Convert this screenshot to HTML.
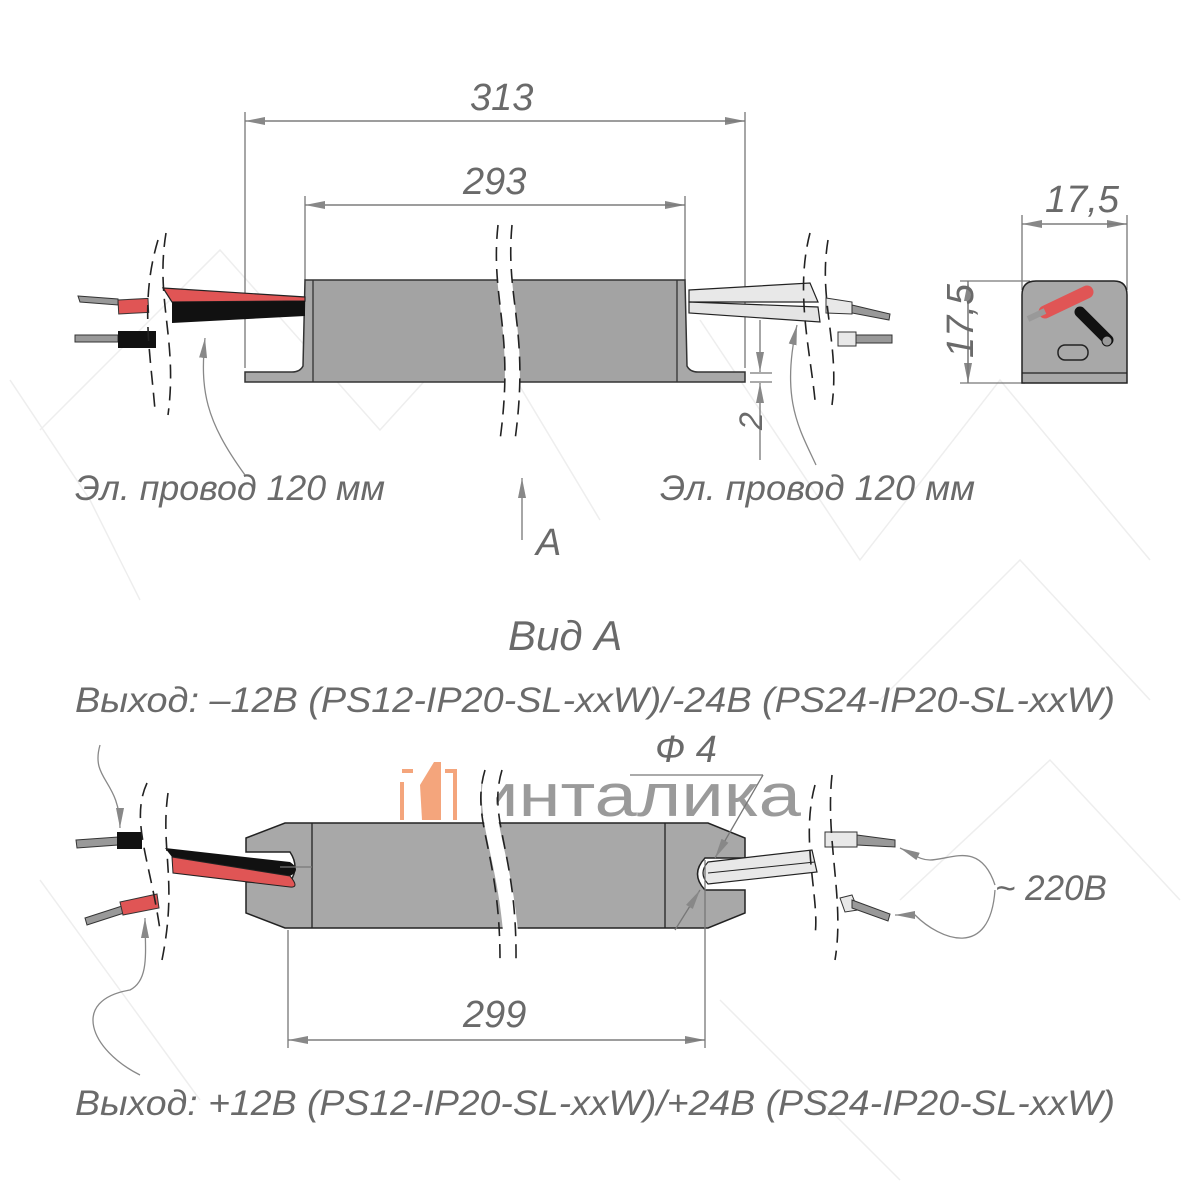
<!DOCTYPE html>
<html><head><meta charset="utf-8"><style>
html,body{margin:0;padding:0;background:#fff;}
svg{display:block}
text{font-family:"Liberation Sans Narrow","Liberation Sans",sans-serif;font-style:italic;fill:#6a6a6a;}
</style></head><body>
<svg width="1200" height="1200" viewBox="0 0 1200 1200" xmlns="http://www.w3.org/2000/svg">
<defs>
<marker id="ar" viewBox="0 0 20 8" refX="20" refY="4" markerWidth="20" markerHeight="8" orient="auto" markerUnits="userSpaceOnUse"><path d="M0,0 L20,4 L0,8 Z" fill="#888"/></marker>
</defs>
<g stroke="#eee" stroke-width="1.5" fill="none">
<path d="M10,380 L90,500 L140,600 M40,430 L220,250 L380,430 L480,320 L600,520 M700,320 L860,560 L1000,380 L1150,560 M880,700 L1020,560 L1150,700 M900,900 L1050,760 L1180,900 M720,1000 L900,1180 M40,880 L200,1100"/>
</g>

<!-- ===== TOP VIEW ===== -->
<g stroke="#777" stroke-width="1.3" fill="none">
<line x1="245" y1="112" x2="245" y2="368"/>
<line x1="745" y1="112" x2="745" y2="368"/>
<line x1="305" y1="196" x2="305" y2="280"/>
<line x1="685" y1="196" x2="685" y2="280"/>
<line x1="245" y1="121" x2="745" y2="121" marker-end="url(#ar)"/>
<line x1="745" y1="121" x2="245" y2="121" marker-end="url(#ar)"/>
<line x1="305" y1="205" x2="685" y2="205" marker-end="url(#ar)"/>
<line x1="685" y1="205" x2="305" y2="205" marker-end="url(#ar)"/>
<line x1="760" y1="320" x2="760" y2="372" marker-end="url(#ar)"/>
<line x1="760" y1="460" x2="760" y2="383" marker-end="url(#ar)"/>
<line x1="750" y1="373" x2="772" y2="373"/>
<line x1="750" y1="382" x2="772" y2="382"/>
<line x1="522" y1="540" x2="522" y2="478" marker-end="url(#ar)"/>
</g>
<text x="470" y="110" font-size="38">313</text>
<text x="463" y="194" font-size="38">293</text>
<text x="747" y="445" font-size="32" transform="rotate(-90 747 430)">2</text>
<text x="536" y="555" font-size="38">A</text>
<text x="75" y="500" font-size="35" textLength="310" lengthAdjust="spacingAndGlyphs">Эл. провод 120 мм</text>
<text x="660" y="500" font-size="35" textLength="315" lengthAdjust="spacingAndGlyphs">Эл. провод 120 мм</text>

<path d="M245,372 L292,372 Q300,372 303,366 L305,280 L685,280 L687,366 Q690,372 698,372 L745,372 L745,382 L245,382 Z" fill="#a8a8a8" stroke="#333" stroke-width="1.5"/>
<rect x="313" y="281" width="364" height="100" fill="#a3a3a3"/>
<line x1="313" y1="280" x2="313" y2="382" stroke="#333" stroke-width="1.3"/>
<line x1="677" y1="280" x2="677" y2="382" stroke="#333" stroke-width="1.3"/>
<path d="M498,225 C490,300 515,330 500,440 L515,440 C530,330 505,300 512,225 Z" fill="#fff"/>
<path d="M498,225 C490,300 515,330 500,440" stroke="#222" stroke-width="1.6" fill="none" stroke-dasharray="14,8"/>
<path d="M512,225 C505,300 530,330 515,440" stroke="#222" stroke-width="1.6" fill="none" stroke-dasharray="14,8"/>

<path d="M163,288 L305,297 L305,301 L172,302 Z" fill="#e05555" stroke="#222" stroke-width="1.2"/>
<path d="M172,302 L305,301 L305,316 L172,323 Z" fill="#111"/>
<path d="M78,296 L118,299 L118,305 L80,302 Z" fill="#999" stroke="#333"/>
<rect x="118" y="300" width="30" height="14" fill="#e05555" stroke="#333" transform="rotate(-3 118 300)"/>
<path d="M75,335 L118,335 L118,342 L75,342 Z" fill="#999" stroke="#333"/>
<rect x="118" y="331" width="38" height="17" fill="#111"/>
<path d="M158,240 C140,300 150,350 155,410" stroke="#222" stroke-width="1.6" fill="none" stroke-dasharray="14,8"/>
<path d="M166,233 C155,300 178,340 168,415" stroke="#222" stroke-width="1.6" fill="none" stroke-dasharray="14,8"/>
<path d="M245,475 C205,420 200,390 205,338" stroke="#888" stroke-width="1.3" fill="none" marker-end="url(#ar)"/>

<path d="M689,290 L810,283 L818,302 L689,302 Z" fill="#e8e8e8" stroke="#222" stroke-width="1.2"/>
<path d="M689,302 L818,307 L820,322 L689,313 Z" fill="#e4e4e4" stroke="#222" stroke-width="1.2"/>
<path d="M826,298 L852,302 L852,314 L826,313 Z" fill="#e8e8e8" stroke="#333"/>
<path d="M852,305 L890,314 L889,320 L852,313 Z" fill="#999" stroke="#333"/>
<rect x="838" y="332" width="18" height="14" fill="#e8e8e8" stroke="#333"/>
<rect x="856" y="335" width="36" height="8" fill="#999" stroke="#333"/>
<path d="M810,233 C795,290 810,350 815,400" stroke="#222" stroke-width="1.6" fill="none" stroke-dasharray="14,8"/>
<path d="M828,240 C818,300 840,345 832,405" stroke="#222" stroke-width="1.6" fill="none" stroke-dasharray="14,8"/>
<path d="M816,465 C800,430 780,400 797,325" stroke="#888" stroke-width="1.3" fill="none" marker-end="url(#ar)"/>

<!-- side view -->
<g stroke="#777" stroke-width="1.3" fill="none">
<line x1="1022" y1="215" x2="1022" y2="290"/>
<line x1="1127" y1="215" x2="1127" y2="290"/>
<line x1="1022" y1="224" x2="1127" y2="224" marker-end="url(#ar)"/>
<line x1="1127" y1="224" x2="1022" y2="224" marker-end="url(#ar)"/>
<line x1="960" y1="281" x2="1030" y2="281"/>
<line x1="960" y1="383" x2="1025" y2="383"/>
<line x1="968" y1="281" x2="968" y2="383" marker-end="url(#ar)"/>
<line x1="968" y1="383" x2="968" y2="281" marker-end="url(#ar)"/>
</g>
<text x="1045" y="212" font-size="38">17,5</text>
<text x="930" y="345" font-size="38" transform="rotate(-90 958 330)">17,5</text>
<path d="M1022,383 L1022,295 Q1022,281 1036,281 L1114,281 Q1127,281 1127,295 L1127,383 Z" fill="#a8a8a8" stroke="#222" stroke-width="1.5"/>
<line x1="1022" y1="373" x2="1127" y2="373" stroke="#222" stroke-width="1.3"/>
<path d="M1080,312 L1108,340" stroke="#111" stroke-width="11" stroke-linecap="round"/>
<circle cx="1107" cy="341" r="5" fill="#999" stroke="#111"/>
<path d="M1045,312 L1087,292" stroke="#e05555" stroke-width="13" stroke-linecap="round"/>
<path d="M1028,319 L1045,311" stroke="#999" stroke-width="6"/>
<rect x="1058" y="345" width="30" height="15" rx="7" fill="none" stroke="#222" stroke-width="1.5"/>

<!-- ===== VIEW A ===== -->
<text x="508" y="650" font-size="42">Вид А</text>
<text x="75" y="712" font-size="35" textLength="1040" lengthAdjust="spacingAndGlyphs">Выход: –12В (PS12-IP20-SL-xxW)/-24В (PS24-IP20-SL-xxW)</text>
<text x="75" y="1115" font-size="35" textLength="1040" lengthAdjust="spacingAndGlyphs">Выход: +12В (PS12-IP20-SL-xxW)/+24В (PS24-IP20-SL-xxW)</text>

<g fill="none" stroke="#f4a57c" stroke-width="4">
<path d="M402,782 L402,820 M402,771 L413,771 M445,771 L455,771 L455,820"/>
</g>
<path d="M420,785 L434,762 L441,762 L441,820 L422,820 Z" fill="#f4a57c"/>
<text x="476" y="816" font-size="60" textLength="325" lengthAdjust="spacingAndGlyphs" style="font-style:normal;fill:#9a9a9a">инталика</text>

<path d="M246,838 L285,823 L708,823 L745,838 L745,858 L705,858 Q690,874 705,890 L745,890 L745,913 L708,928 L285,928 L246,913 L246,882 L290,882 Q300,867 290,852 L246,852 Z" fill="#a8a8a8" stroke="#222" stroke-width="1.5"/>
<line x1="312" y1="823" x2="312" y2="928" stroke="#222" stroke-width="1.3"/>
<line x1="665" y1="823" x2="665" y2="928" stroke="#222" stroke-width="1.3"/>
<path d="M487,760 C470,820 500,850 505,960 L520,960 C515,850 485,820 500,760 Z" fill="#fff"/>
<path d="M485,770 C470,820 500,850 500,960" stroke="#222" stroke-width="1.6" fill="none" stroke-dasharray="14,8"/>
<path d="M502,770 C487,820 517,850 516,960" stroke="#222" stroke-width="1.6" fill="none" stroke-dasharray="14,8"/>

<path d="M165,848 L290,862 Q302,870 290,876 L172,857 Z" fill="#111"/>
<path d="M172,857 L290,876 Q300,888 290,887 L173,873 Z" fill="#e05555" stroke="#222"/>
<path d="M76,840 L118,837 L118,845 L77,848 Z" fill="#999" stroke="#333"/>
<rect x="117" y="832" width="25" height="17" fill="#111"/>
<path d="M85,918 L122,906 L124,913 L87,925 Z" fill="#999" stroke="#333"/>
<path d="M120,902 L157,894 L159,908 L123,915 Z" fill="#e05555" stroke="#333"/>
<path d="M147,783 C130,820 150,860 160,930" stroke="#222" stroke-width="1.6" fill="none" stroke-dasharray="14,8"/>
<path d="M168,793 C160,850 178,880 162,960" stroke="#222" stroke-width="1.6" fill="none" stroke-dasharray="14,8"/>
<path d="M100,745 C90,780 120,780 120,828" stroke="#888" stroke-width="1.3" fill="none" marker-end="url(#ar)"/>
<path d="M140,1075 C90,1050 70,1000 130,990 C150,980 145,950 145,918" stroke="#888" stroke-width="1.3" fill="none" marker-end="url(#ar)"/>

<path d="M708,862 L812,850 L817,872 L708,884 Q698,873 708,862 Z" fill="#e8e8e8" stroke="#222" stroke-width="1.2"/>
<line x1="708" y1="873" x2="815" y2="862" stroke="#222"/>
<rect x="825" y="832" width="32" height="15" fill="#e8e8e8" stroke="#333"/>
<path d="M857,835 L895,840 L895,847 L857,845 Z" fill="#999" stroke="#333"/>
<path d="M840,898 L852,895 L858,910 L845,912 Z" fill="#e8e8e8" stroke="#333"/>
<path d="M852,900 L890,914 L888,921 L852,908 Z" fill="#999" stroke="#333"/>
<path d="M815,785 C800,840 820,900 815,935" stroke="#222" stroke-width="1.6" fill="none" stroke-dasharray="14,8"/>
<path d="M832,775 C825,840 845,900 835,960" stroke="#222" stroke-width="1.6" fill="none" stroke-dasharray="14,8"/>
<path d="M995,885 C980,840 950,860 930,860 C920,860 915,855 900,848" stroke="#888" stroke-width="1.3" fill="none" marker-end="url(#ar)"/>
<path d="M995,890 C990,960 940,940 915,915 L895,915" stroke="#888" stroke-width="1.3" fill="none" marker-end="url(#ar)"/>
<text x="995" y="900" font-size="35">~ 220В</text>

<text x="655" y="762" font-size="38">Ф 4</text>
<g stroke="#777" stroke-width="1.3" fill="none">
<line x1="630" y1="775" x2="763" y2="775"/>
<line x1="763" y1="775" x2="715" y2="858" marker-end="url(#ar)"/>
<line x1="675" y1="930" x2="700" y2="890" marker-end="url(#ar)"/>
<line x1="288" y1="930" x2="288" y2="1048"/>
<line x1="705" y1="860" x2="705" y2="1048"/>
<line x1="288" y1="1040" x2="705" y2="1040" marker-end="url(#ar)"/>
<line x1="705" y1="1040" x2="288" y2="1040" marker-end="url(#ar)"/>
<line x1="280" y1="867" x2="312" y2="867"/>
</g>
<text x="463" y="1027" font-size="38">299</text>
</svg>
</body></html>
